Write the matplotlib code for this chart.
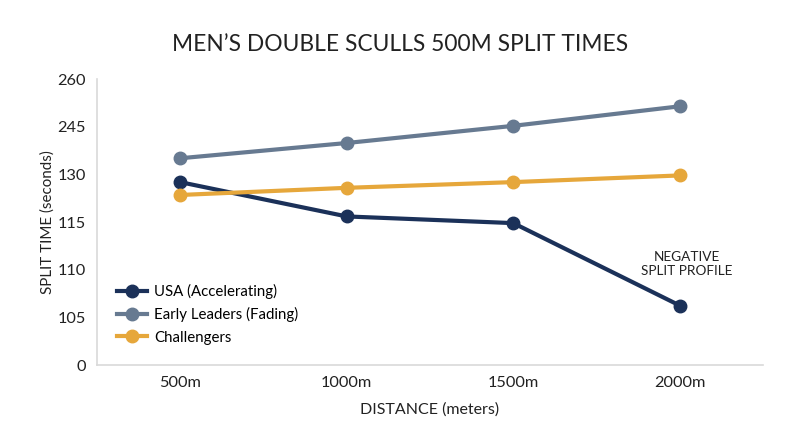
import matplotlib
matplotlib.use("Agg")
import matplotlib.pyplot as plt

distances = ["500m", "1000m", "1500m", "2000m"]
# y tick labels sit on evenly spaced positions 0..6
ytick_labels = ["0", "105", "110", "115", "130", "245", "260"]

# values in tick-position units
usa = [3.84, 3.12, 2.98, 1.25]
early_leaders = [4.34, 4.66, 5.02, 5.43]
challengers = [3.57, 3.72, 3.84, 3.98]

plt.rcParams['font.family'] = ['Lato', 'DejaVu Sans']

fig = plt.figure(figsize=(8, 4.47), dpi=100)
ax = fig.add_axes([0.121, 0.183, 0.833, 0.64])

x = range(len(distances))
ax.plot(x, usa, color="#1b3159", lw=3, marker="o", ms=9, label="USA (Accelerating)")
ax.plot(x, early_leaders, color="#677a91", lw=3, marker="o", ms=9, label="Early Leaders (Fading)")
ax.plot(x, challengers, color="#e6a73b", lw=3, marker="o", ms=9, label="Challengers")

ax.set_xlim(-0.5, 3.5)
ax.set_ylim(0, 6)
ax.set_xticks(list(x))
ax.set_xticklabels(distances, fontsize=11.8)
ax.set_yticks(range(len(ytick_labels)))
ax.set_yticklabels(ytick_labels, fontsize=11.8)
ax.tick_params(length=0, pad=8, colors="#222222")

for s in ["top", "right"]:
    ax.spines[s].set_visible(False)
for s in ["left", "bottom"]:
    ax.spines[s].set_color("#d9d9d9")
    ax.spines[s].set_linewidth(1.2)

ax.set_xlabel("DISTANCE (meters)", fontsize=11.5, labelpad=9, color="#222222")
ax.set_ylabel("SPLIT TIME (seconds)", fontsize=10.9, labelpad=1.5, color="#222222")
fig.suptitle("MEN\u2019S DOUBLE SCULLS 500M SPLIT TIMES", fontsize=16.4, y=0.925, color="#222222")

ax.text(3.04, 2.12, "NEGATIVE\nSPLIT PROFILE", ha="center", va="center",
        fontsize=9.8, color="#222222", linespacing=1.25)

ax.legend(loc="lower left", bbox_to_anchor=(0.01, 0.025), frameon=False,
          fontsize=10.8, handlelength=2.0, labelspacing=0.55, handletextpad=0.5)

fig.savefig("out.png", dpi=100, facecolor="white")
